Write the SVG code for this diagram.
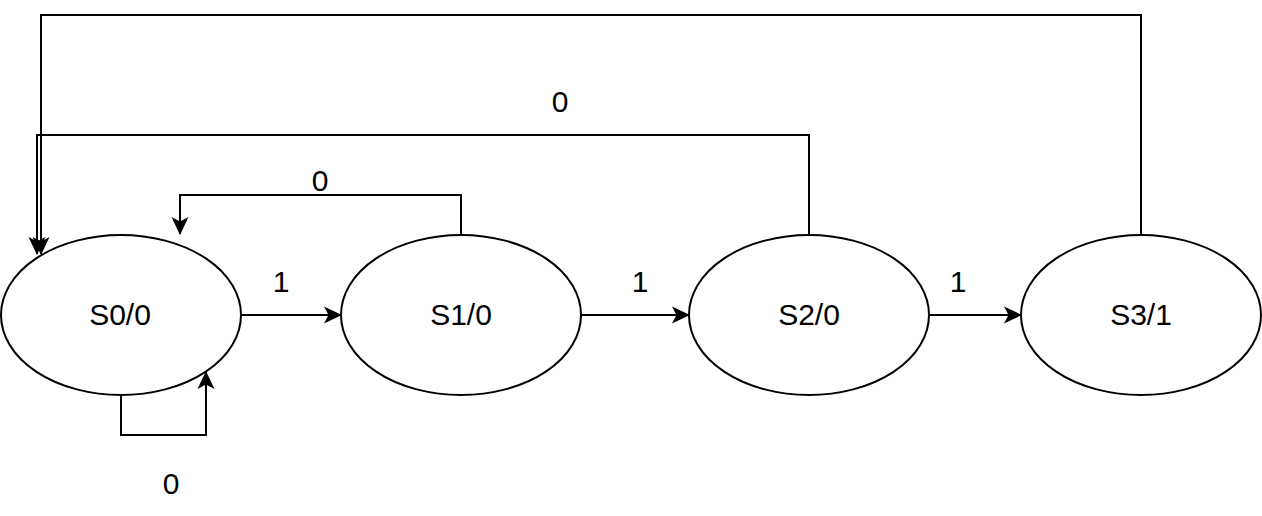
<svg xmlns="http://www.w3.org/2000/svg" width="1262" height="516" viewBox="0 0 1262 516">
<style>
.node ellipse{fill:#fff;stroke:#000;stroke-width:2}
.node text,.lbl{font-family:"Liberation Sans",Arial,sans-serif;font-size:30px;fill:#000;text-anchor:middle}
.edge{fill:none;stroke:#000;stroke-width:2;marker-end:url(#arr)}
</style>
<defs>
<marker id="arr" viewBox="0 0 18 18" refX="17" refY="9" markerWidth="18" markerHeight="18" markerUnits="userSpaceOnUse" orient="auto">
<path d="M0,0.5 L18,9 L0,17.5 L4.5,9 Z" fill="#000"/>
</marker>
</defs>
<rect width="1262" height="516" fill="#fff"/>
<g id="connectors">
<path class="edge" d="M241,315 L341,315"/>
<path class="edge" d="M581,315 L689,315"/>
<path class="edge" d="M929,315 L1021,315"/>
<path class="edge" d="M461,235 L461,195 L180,195 L180,234"/>
<path class="edge" d="M809,235 L809,135 L37,135 L37,254"/>
<path class="edge" d="M1141,235 L1141,15 L41,15 L41,254"/>
<path class="edge" d="M121,395 L121,435 L206,435 L206,372"/>
<text class="lbl" x="281" y="292">1</text>
<text class="lbl" x="640" y="292">1</text>
<text class="lbl" x="958" y="292">1</text>
<text class="lbl" x="320" y="191">0</text>
<text class="lbl" x="560" y="112">0</text>
<text class="lbl" x="171" y="494">0</text>
</g>
<g id="S0" class="node"><ellipse cx="121" cy="315" rx="120" ry="80"/><text x="120" y="325">S0/0</text></g>
<g id="S1" class="node"><ellipse cx="461" cy="315" rx="120" ry="80"/><text x="461" y="325">S1/0</text></g>
<g id="S2" class="node"><ellipse cx="809" cy="315" rx="120" ry="80"/><text x="809" y="325">S2/0</text></g>
<g id="S3" class="node"><ellipse cx="1141" cy="315" rx="120" ry="80"/><text x="1141" y="325">S3/1</text></g>
</svg>
